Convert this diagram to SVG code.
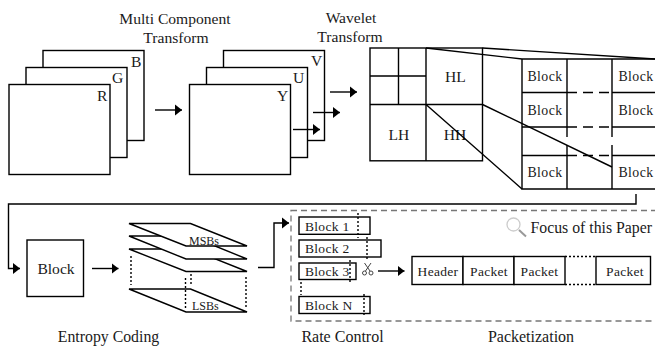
<svg xmlns="http://www.w3.org/2000/svg" width="655" height="346" viewBox="0 0 655 346">
<defs>
<marker id="ah" markerUnits="userSpaceOnUse" markerWidth="8" markerHeight="12" refX="7" refY="6" orient="auto"><path d="M0,0.5 L7,6 L0,11.500 Z" fill="#000"/></marker>
</defs>
<style>
text{font-family:"Liberation Serif","Times New Roman",serif;fill:#1a1a1a;font-size:15.600px}
.b{fill:#fff;stroke:#000;stroke-width:1.400}
.n{fill:none;stroke:#000;stroke-width:1.400}
.a{fill:none;stroke:#000;stroke-width:1.400;marker-end:url(#ah)}
.d{fill:none;stroke:#000;stroke-width:1.400;stroke-dasharray:2 2}
.ld{fill:none;stroke:#000;stroke-width:1.400;stroke-dasharray:10 6}
.m{text-anchor:middle}
.s{font-size:13.500px;letter-spacing:0.3px}
.bk{font-size:13.800px;letter-spacing:0.4px}
.t{font-size:12px}
</style>
<rect width="655" height="346" fill="#fff"/>
<g id="labels">
<text class="m" x="175" y="24">Multi Component</text>
<text class="m" x="176" y="43">Transform</text>
<text class="m" x="351" y="23">Wavelet</text>
<text class="m" x="350" y="42">Transform</text>
<text class="m" x="108.500" y="342" style="font-size:15.800px">Entropy Coding</text>
<text class="m" x="342.500" y="342" style="font-size:16px">Rate Control</text>
<text class="m" x="531" y="342" style="font-size:16px">Packetization</text>
</g>
<g id="rgb">
<rect class="b" x="43" y="50.500" width="101" height="90"/><text x="131" y="67">B</text>
<rect class="b" x="26" y="67.500" width="101" height="90"/><text x="112" y="83">G</text>
<rect class="b" x="9" y="84.500" width="101" height="90"/><text x="97" y="101">R</text>
</g>
<g id="yuv">
<rect class="b" x="223.500" y="50.500" width="101" height="90"/><text x="311" y="66">V</text>
<rect class="b" x="206.500" y="67.500" width="101" height="90"/><text x="293" y="83">U</text>
<rect class="b" x="189.500" y="84.500" width="101" height="90"/><text x="277" y="101">Y</text>
</g>
<g id="wavelet">
<rect class="b" x="370" y="48" width="112.500" height="112.800"/>
<path class="n" d="M426,48V161M370,104.500H482.500M398.500,48V104.500M370,76H426"/>
<text class="m" x="455.500" y="82">HL</text>
<text class="m" x="399" y="140">LH</text>
<text class="m" x="455" y="140">HH</text>
</g>
<g id="blocks">
<path class="n" d="M522,59H655M522,59V189H655M522,92.500H567M612,92.500H655M522,127H567M612,127H655M522,155.500H567M612,155.500H655M567,59V137M567,145V189M612,59V137M612,145V189"/>
<path class="ld" d="M567,92.500H612M567,127H612M567,155.500H612"/>
<text class="m bk" x="545" y="81">Block</text><text class="m bk" x="636" y="81">Block</text>
<text class="m bk" x="545" y="115">Block</text><text class="m bk" x="636" y="115">Block</text>
<text class="m bk" x="545" y="177">Block</text><text class="m bk" x="636" y="177">Block</text>
</g>
<g id="block-node"><rect class="b" x="27" y="240" width="56.500" height="56.500"/><text class="m" x="56" y="274">Block</text></g>
<g id="bitplanes">
<path class="b" d="M129,249H190.500L247,271.500H186Z"/>
<path class="b" d="M129,236H190.500L247,259H186Z"/>
<path class="b" d="M129,223.500H190.500L247,246H186Z"/>
<path class="d" d="M131,256V285M185.500,278V310M191,274V285M246,277V307"/>
<path class="n" d="M129,289H190.500L247,312H186Z"/>
<text class="t" x="189" y="245">MSBs</text>
<text class="t" x="192" y="310">LSBs</text>
</g>
<g id="rate">
<rect class="b" x="299" y="217" width="71" height="17.300"/><text class="s" x="305" y="230.500">Block 1</text>
<rect class="b" x="299" y="240" width="82" height="17"/><text class="s" x="305" y="252.500">Block 2</text>
<rect class="b" x="299" y="263" width="57" height="16.500"/><text class="s" x="305" y="276">Block 3</text>
<rect class="b" x="299" y="296.500" width="71" height="17"/><text class="s" x="305" y="310">Block N</text>
<path class="d" d="M358,213V238M367,237V261M350,260V282M301,282V295M364,294V315"/>
<g id="scissors" fill="none" stroke="#444" stroke-width="1">
<path d="M364.500,263L370,271M371,263L365.500,271"/>
<circle cx="364.500" cy="273" r="2"/><circle cx="371" cy="273" r="2"/>
</g>
</g>
<g id="packets">
<rect class="b" x="412" y="256.500" width="51" height="28"/><text class="m s" x="438" y="276">Header</text>
<rect class="b" x="463" y="256.500" width="51" height="28"/><text class="m s" x="489" y="276">Packet</text>
<rect class="b" x="514" y="256.500" width="51" height="28"/><text class="m s" x="539.500" y="276">Packet</text>
<rect class="b" x="596" y="256.500" width="54.500" height="28"/><text class="m s" x="625" y="276">Packet</text>
<path class="d" d="M565,256.500H596M565,284.500H596"/>
</g>
<g id="focus">
<rect x="291" y="210.500" width="370" height="110.500" fill="none" stroke="#777" stroke-width="1.300" stroke-dasharray="6 4"/>
<circle cx="513.500" cy="224.500" r="6.500" fill="none" stroke="#ccc" stroke-width="1.300"/>
<path d="M519,230L526,236.500" stroke="#999" stroke-width="2"/>
<text x="530.500" y="233" style="font-size:15.800px">Focus of this Paper</text>
</g>
<g id="connectors">
<path class="a" d="M155,110H182"/>
<path class="a" d="M293,129.500H320"/>
<path class="a" d="M313,112.500H340"/>
<path class="a" d="M330,92H357"/>
<path class="n" d="M426,48L522,59M482.500,48L655,59M426,104.500L522,189M482.500,104.500L612,167"/>
<path class="a" d="M636,194V204H8.500V268.500H20"/>
<path class="a" d="M92,268.500H118.500"/>
<path class="a" d="M258,267.500H274V223H289"/>
<path class="a" d="M378,271H404.500"/>
</g>
</svg>
